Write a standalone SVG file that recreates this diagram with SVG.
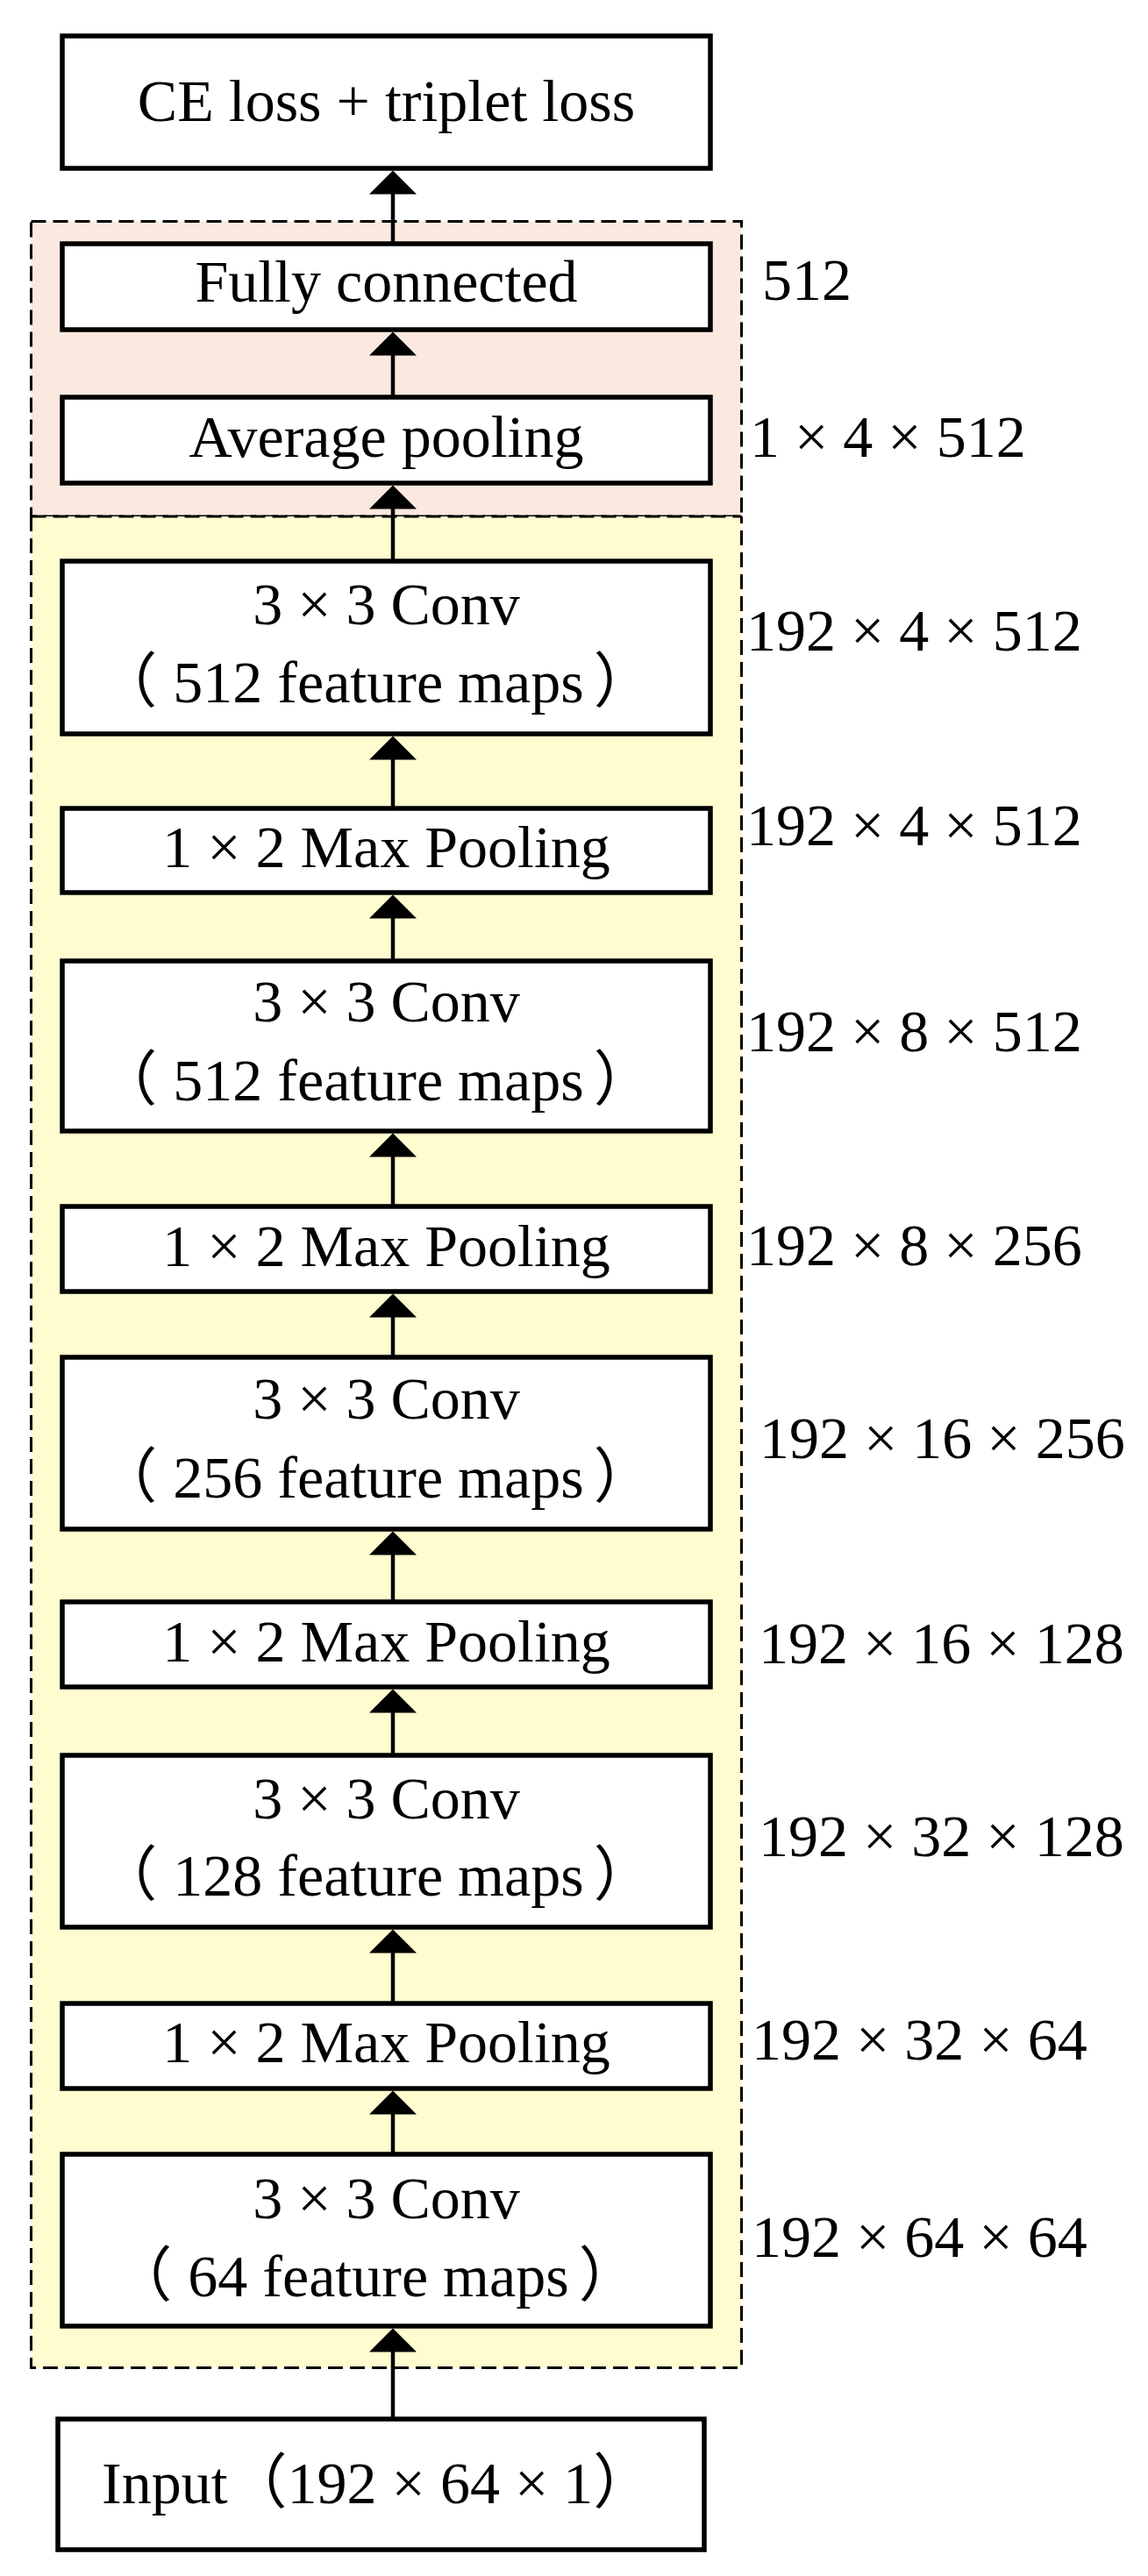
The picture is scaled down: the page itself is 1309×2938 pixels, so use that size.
<svg xmlns="http://www.w3.org/2000/svg" width="1309" height="2938" viewBox="0 0 1309 2938">
<style>
text{font-family:"Liberation Serif","Noto Sans CJK SC",serif;font-size:68px;fill:#000}
.c{text-anchor:middle}
.box{fill:#fff;stroke:#000;stroke-width:5.5}
.dash{fill:none;stroke:#000;stroke-width:3;stroke-dasharray:17 8}
.arr{stroke:#000;stroke-width:4.5;fill:none;marker-end:url(#ah)}
</style>
<defs>
<marker id="ah" markerUnits="userSpaceOnUse" viewBox="0 0 27 54" markerWidth="27" markerHeight="54" refX="7" refY="27" orient="auto">
<path d="M0,0 L27,27 L0,54 z" fill="#000"/>
</marker>
</defs>
<rect width="1309" height="2938" fill="#fff"/>
<g id="group-head">
<rect x="35.5" y="252.5" width="810" height="336.5" fill="#FBE9DF"/>
<rect class="dash" x="35.5" y="252.5" width="810" height="336.5"/>
</g>
<g id="group-backbone">
<rect x="35.5" y="589" width="810" height="2111.5" fill="#FFFDCF"/>
<path class="dash" d="M35.5,589 V2700.5 H845.5 V589"/>
<path class="dash" d="M35.5,589 H845.5"/>
</g>
<g id="connectors">
<line class="arr" x1="448" y1="278" x2="448" y2="214.5"/>
<line class="arr" x1="448" y1="453" x2="448" y2="398.5"/>
<line class="arr" x1="448" y1="640" x2="448" y2="573.5"/>
<line class="arr" x1="448" y1="922" x2="448" y2="859.5"/>
<line class="arr" x1="448" y1="1096" x2="448" y2="1040.5"/>
<line class="arr" x1="448" y1="1376" x2="448" y2="1312.5"/>
<line class="arr" x1="448" y1="1548" x2="448" y2="1495.5"/>
<line class="arr" x1="448" y1="1827" x2="448" y2="1766.5"/>
<line class="arr" x1="448" y1="2002" x2="448" y2="1946.5"/>
<line class="arr" x1="448" y1="2285" x2="448" y2="2220.5"/>
<line class="arr" x1="448" y1="2457" x2="448" y2="2404.5"/>
<line class="arr" x1="448" y1="2759" x2="448" y2="2675.5"/>
</g>
<g id="node-loss">
<rect class="box" x="71" y="41" width="739" height="151"/>
<text class="c" x="440.5" y="138">CE loss + triplet loss</text>
</g>
<g id="node-fc">
<rect class="box" x="71" y="278" width="739" height="98"/>
<text class="c" x="440.5" y="344">Fully connected</text>
</g>
<g id="node-avgpool">
<rect class="box" x="71" y="453" width="739" height="98"/>
<text class="c" x="440.5" y="521">Average pooling</text>
</g>
<g id="node-conv512a">
<rect class="box" x="71" y="640" width="739" height="197"/>
<text class="c" x="440.5" y="712">3 × 3 Conv</text>
<text class="c" x="446" y="801"><tspan dx="-18">（</tspan><tspan dx="18">512 feature maps</tspan><tspan dx="11">）</tspan></text>
</g>
<g id="node-maxpool1">
<rect class="box" x="71" y="922" width="739" height="96"/>
<text class="c" x="440.5" y="989">1 × 2 Max Pooling</text>
</g>
<g id="node-conv512b">
<rect class="box" x="71" y="1096" width="739" height="194"/>
<text class="c" x="440.5" y="1165">3 × 3 Conv</text>
<text class="c" x="446" y="1255"><tspan dx="-18">（</tspan><tspan dx="18">512 feature maps</tspan><tspan dx="11">）</tspan></text>
</g>
<g id="node-maxpool2">
<rect class="box" x="71" y="1376" width="739" height="97"/>
<text class="c" x="440.5" y="1444">1 × 2 Max Pooling</text>
</g>
<g id="node-conv256">
<rect class="box" x="71" y="1548" width="739" height="196"/>
<text class="c" x="440.5" y="1618">3 × 3 Conv</text>
<text class="c" x="446" y="1708"><tspan dx="-18">（</tspan><tspan dx="18">256 feature maps</tspan><tspan dx="11">）</tspan></text>
</g>
<g id="node-maxpool3">
<rect class="box" x="71" y="1827" width="739" height="97"/>
<text class="c" x="440.5" y="1895">1 × 2 Max Pooling</text>
</g>
<g id="node-conv128">
<rect class="box" x="71" y="2002" width="739" height="196"/>
<text class="c" x="440.5" y="2074">3 × 3 Conv</text>
<text class="c" x="446" y="2162"><tspan dx="-18">（</tspan><tspan dx="18">128 feature maps</tspan><tspan dx="11">）</tspan></text>
</g>
<g id="node-maxpool4">
<rect class="box" x="71" y="2285" width="739" height="97"/>
<text class="c" x="440.5" y="2352">1 × 2 Max Pooling</text>
</g>
<g id="node-conv64">
<rect class="box" x="71" y="2457" width="739" height="196"/>
<text class="c" x="440.5" y="2530">3 × 3 Conv</text>
<text class="c" x="446" y="2619"><tspan dx="-18">（</tspan><tspan dx="18">64 feature maps</tspan><tspan dx="11">）</tspan></text>
</g>
<g id="node-input">
<rect class="box" x="66" y="2759" width="737" height="149"/>
<text x="116" y="2855">Input（192 × 64 × 1）</text>
</g>
<g id="dims">
<text x="869" y="342">512</text>
<text x="855" y="521">1 × 4 × 512</text>
<text x="851" y="742">192 × 4 × 512</text>
<text x="851" y="964">192 × 4 × 512</text>
<text x="851" y="1199">192 × 8 × 512</text>
<text x="851" y="1443">192 × 8 × 256</text>
<text x="866" y="1663">192 × 16 × 256</text>
<text x="865" y="1897">192 × 16 × 128</text>
<text x="865" y="2117">192 × 32 × 128</text>
<text x="857" y="2349">192 × 32 × 64</text>
<text x="857" y="2574">192 × 64 × 64</text>
</g>
</svg>
